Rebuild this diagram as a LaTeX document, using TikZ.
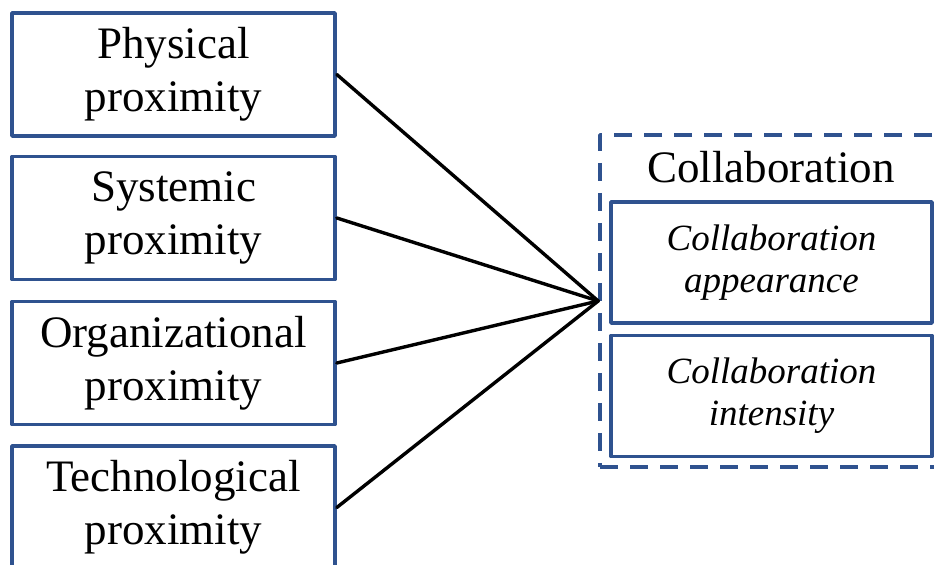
\documentclass[tikz,border=0pt]{standalone}
\usepackage{fontspec}
\setmainfont{Liberation Serif}
\definecolor{boxblue}{RGB}{47,82,143}
\begin{document}
\begin{tikzpicture}[x=0.5pt,y=-0.5pt,line join=round,line cap=round,
  factor/.style={draw=boxblue,line width=1.8pt,align=center,inner sep=0pt,
    minimum width=161.5pt,minimum height=61.5pt,font=\fontsize{22.5}{26.5}\selectfont},
  outcome/.style={draw=boxblue,line width=1.8pt,align=center,inner sep=0pt,
    minimum width=160.5pt,minimum height=60.5pt,font=\fontsize{18.5}{21}\selectfont\itshape},
  group/.style={draw=boxblue,line width=1.8pt,dash pattern=on 9pt off 6pt,line cap=butt,
    inner sep=0pt,minimum width=172.5pt,minimum height=166pt}]
\useasboundingbox (0,0) rectangle (934,565);
% left side
\node[factor] (phys) at (173.5,74.5) {Physical\\proximity};
\node[factor] (syst) at (173.5,218) {Systemic\\proximity};
\node[factor] (orga) at (173.5,363) {Organizational\\proximity};
\node[factor] (tech) at (173.5,507.5) {Technological\\proximity};
% right side
\node[group] (collab) at (772.5,301) {};
\node[anchor=base,font=\fontsize{22.5}{26}\selectfont] (title) at (771,183) {Collaboration};
\node[outcome] (appear) at (771.5,262.5) {Collaboration\\appearance};
\node[outcome] (intens) at (771.5,396) {Collaboration\\intensity};
% links
\foreach \f in {phys,syst,orga,tech} {\draw[line width=1.7pt] (\f.east)--(collab.west);}
\end{tikzpicture}
\end{document}
